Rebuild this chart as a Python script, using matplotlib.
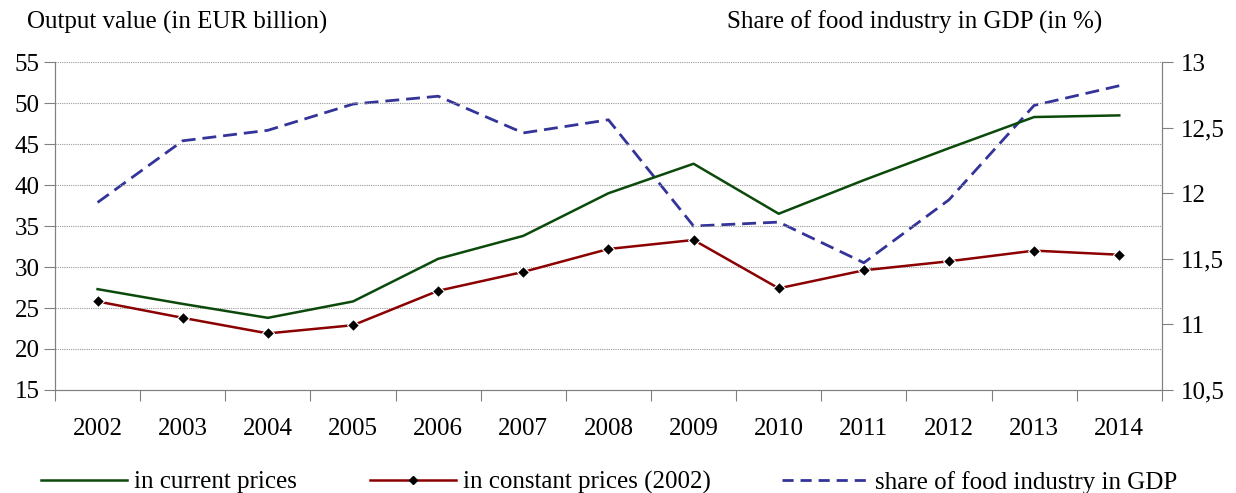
import matplotlib.pyplot as plt
import matplotlib.ticker as mticker
from matplotlib.lines import Line2D

plt.rcParams['font.family'] = ['Liberation Serif', 'DejaVu Serif']

years = ['2002', '2003', '2004', '2005', '2006', '2007', '2008',
         '2009', '2010', '2011', '2012', '2013', '2014']
current_prices = [27.3, 25.5, 23.8, 25.8, 31.0, 33.8, 39.0, 42.6, 36.5, 40.6, 44.5, 48.3, 48.5]
constant_prices = [25.8, 23.8, 21.9, 22.9, 27.1, 29.4, 32.2, 33.3, 27.4, 29.6, 30.7, 32.0, 31.5]
gdp_share = [11.93, 12.40, 12.48, 12.68, 12.74, 12.46, 12.56, 11.75, 11.78, 11.47, 11.95, 12.67, 12.82]

green = '#0b4a0b'
red = '#8b0000'
blue = '#333399'
fs = 18

fig = plt.figure(figsize=(12.36, 4.93), dpi=100)
ax = fig.add_axes([0.0445, 0.209, 0.8955, 0.665])
ax2 = ax.twinx()

x = list(range(len(years)))

# left axis lines
ax.plot(x, current_prices, color=green, lw=1.8)
ax.plot(x, constant_prices, color=red, lw=1.8, marker='D',
        markersize=6.5, markerfacecolor='black', markeredgecolor='white',
        markeredgewidth=0.8)
# right axis line
ax2.plot(x, gdp_share, color=blue, lw=2.0, dashes=(5, 2.5))

ax.set_zorder(ax2.get_zorder() + 1)
ax.patch.set_visible(False)

ax.set_xlim(-0.5, len(years) - 0.5)
ax.set_ylim(15, 55)
ax2.set_ylim(10.5, 13)

ax.yaxis.set_major_locator(mticker.MultipleLocator(5))
ax2.yaxis.set_major_locator(mticker.MultipleLocator(0.5))
ax2.yaxis.set_major_formatter(mticker.FuncFormatter(
    lambda v, p: ('%g' % v).replace('.', ',')))

# ticks between categories, labels at category centres
ax.set_xticks([i - 0.5 for i in range(len(years) + 1)])
ax.set_xticklabels([])
ax.set_xticks(x, minor=True)
ax.set_xticklabels(years, minor=True)
ax.tick_params(axis='x', which='major', length=8, color='#808080', direction='out')
ax.tick_params(axis='x', which='minor', length=0, labelsize=fs, pad=20)
ax.tick_params(axis='y', length=8, color='#808080', labelsize=fs, pad=3)
ax2.tick_params(axis='y', length=8, color='#808080', labelsize=fs, pad=6)
ax2.tick_params(axis='x', which='both', length=0)

for a in (ax, ax2):
    a.spines['top'].set_visible(False)
    for s in ('left', 'right', 'bottom'):
        a.spines[s].set_color('#808080')

# dotted horizontal grid
for g in range(20, 56, 5):
    ax.axhline(g, color='#999999', lw=0.8, ls=(0, (1, 1)), zorder=0)

fig.text(0.022, 0.955, 'Output value (in EUR billion)', fontsize=fs, ha='left', va='center')
fig.text(0.588, 0.955, 'Share of food industry in GDP (in %)', fontsize=fs, ha='left', va='center')

# legend entries, placed one by one
handles = [
    Line2D([], [], color=green, lw=1.8),
    Line2D([], [], color=red, lw=1.8, marker='D', markersize=4.5,
           markerfacecolor='black', markeredgecolor='black'),
    Line2D([], [], color=blue, lw=2.0, dashes=(4, 2.5)),
]
labels = ['in current prices', 'in constant prices (2002)', 'share of food industry in GDP']
starts = [41 / 1236, 370 / 1236, 782 / 1236]
for h, lab, x0 in zip(handles, labels, starts):
    fig.legend([h], [lab], loc='center left', bbox_to_anchor=(x0, 0.022),
               frameon=False, fontsize=fs, handlelength=3.45, handletextpad=0.28,
               borderpad=0, borderaxespad=0)

plt.savefig('out.png', dpi=100)
